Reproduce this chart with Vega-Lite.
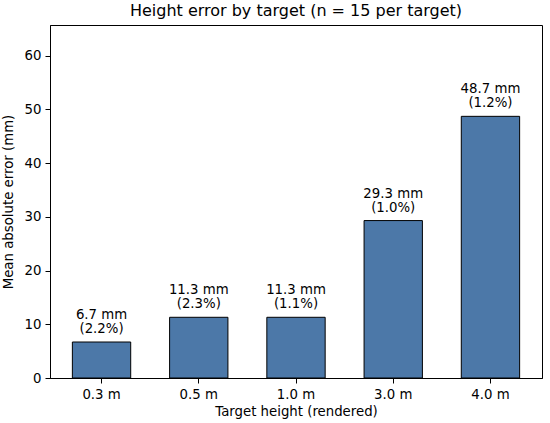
{
  "$schema": "https://vega.github.io/schema/vega-lite/v6.json",
  "autosize": {"type": "none"},
  "width": 492,
  "height": 353,
  "padding": {"left": 50, "top": 25, "right": 8, "bottom": 45},
  "background": "white",
  "title": {"text": "Height error by target (n = 15 per target)", "font": "DejaVu Sans", "fontSize": 16, "fontWeight": "normal", "color": "black", "offset": 6},
  "config": {
    "view": {"stroke": "black", "strokeWidth": 1},
    "axis": {"labelFont": "DejaVu Sans", "titleFont": "DejaVu Sans", "labelFontSize": 13.3, "titleFontSize": 13.3, "titleFontWeight": "normal", "labelColor": "black", "titleColor": "black", "domainColor": "black", "tickColor": "black", "grid": false, "tickSize": 5}
  },
  "data": {"values": [
    {"target": "0.3 m", "mae": 6.7, "label": "6.7 mm\n(2.2%)"},
    {"target": "0.5 m", "mae": 11.3, "label": "11.3 mm\n(2.3%)"},
    {"target": "1.0 m", "mae": 11.3, "label": "11.3 mm\n(1.1%)"},
    {"target": "3.0 m", "mae": 29.3, "label": "29.3 mm\n(1.0%)"},
    {"target": "4.0 m", "mae": 48.7, "label": "48.7 mm\n(1.2%)"}
  ]},
  "encoding": {
    "x": {"field": "target", "type": "nominal", "sort": null, "title": "Target height (rendered)",
      "scale": {"paddingInner": 0.4, "paddingOuter": 0.23},
      "axis": {"labelAngle": 0, "labelPadding": 4, "titlePadding": 4}},
    "y": {"field": "mae", "type": "quantitative", "title": "Mean absolute error (mm)",
      "scale": {"domain": [0, 65.7], "nice": false},
      "axis": {"values": [0, 10, 20, 30, 40, 50, 60], "labelPadding": 4, "titlePadding": 9}}
  },
  "layer": [
    {"mark": {"type": "bar", "color": "#4C78A8", "stroke": "black", "strokeWidth": 1}},
    {"mark": {"type": "text", "baseline": "bottom", "dy": -20, "lineBreak": "\n", "lineHeight": 14, "font": "DejaVu Sans", "fontSize": 13.3, "color": "black"},
     "encoding": {"text": {"field": "label"}}}
  ]
}
